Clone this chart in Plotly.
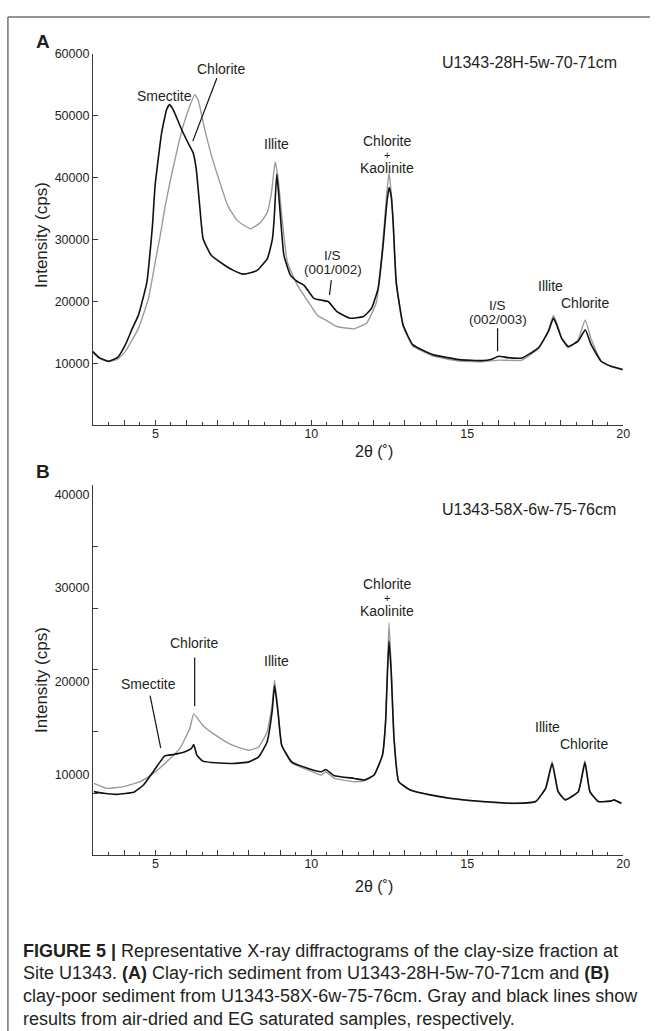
import plotly.graph_objects as go

W, H = 657, 1031
FONT = "Liberation Sans, Arial, Helvetica, sans-serif"
TXT = "#231f20"

# ---------------- Panel A: U1343-28H-5w-70-71cm ----------------
a_gray_x = [3.0, 3.2, 3.5, 3.8, 4.04, 4.46, 4.78, 5.0, 5.15, 5.3, 5.5, 5.7, 5.9, 6.1, 6.26,
            6.37, 6.58, 6.8, 7.0, 7.32, 7.6, 7.85, 8.06, 8.38, 8.59, 8.72, 8.84, 8.93, 9.07,
            9.23, 9.55, 9.97, 10.2, 10.45, 10.82, 11.35, 11.77, 12.09, 12.3, 12.41, 12.49,
            12.56, 12.62, 12.72, 12.94, 13.25, 13.89, 14.74, 15.48, 16.01, 16.75, 17.28, 17.6,
            17.76, 17.88, 18.02, 18.23, 18.55, 18.78, 18.97, 19.29, 19.61, 19.98]
a_gray_y = [11700, 10800, 10250, 10700, 11920, 15670, 20490, 26500, 30500, 35000, 40000, 44500,
            48500, 51500, 53380, 52570, 47760, 43500, 40270, 35450, 33200, 32250, 31720, 32780,
            34380, 37500, 42520, 40000, 33000, 26360, 22620, 19410, 17700, 17010, 15930, 15560,
            16470, 19940, 30000, 37000, 40800, 37500, 33000, 23000, 16000, 12800, 11200, 10350,
            10250, 10500, 10500, 12400, 15300, 17700, 16300, 14100, 12500, 13800, 17010, 13900,
            10300, 9500, 8950]

a_black_x = [3.0, 3.2, 3.5, 3.8, 4.04, 4.25, 4.46, 4.73, 4.86, 4.91, 4.99, 5.2, 5.36, 5.45,
             5.57, 5.84, 6.1, 6.21, 6.31, 6.42, 6.53, 6.79, 7.22, 7.5, 7.8, 8.05, 8.27, 8.59,
             8.75, 8.81, 8.89, 8.95, 9.02, 9.12, 9.33, 9.55, 9.76, 10.08, 10.3, 10.55, 10.82,
             11.24, 11.67, 11.93, 12.14, 12.3, 12.41, 12.49, 12.56, 12.62, 12.72, 12.94, 13.25,
             13.89, 14.74, 15.48, 15.75, 16.01, 16.3, 16.75, 17.28, 17.6, 17.76, 17.88, 18.02,
             18.23, 18.55, 18.78, 18.97, 19.29, 19.61, 19.98]
a_black_y = [11870, 10900, 10320, 11000, 13000, 15500, 17810, 23150, 29570, 32500, 38660, 47220,
             50970, 51770, 50970, 47760, 45080, 44010, 41340, 35450, 30110, 27430, 25830, 25000,
             24400, 24600, 25030, 26900, 30000, 33500, 40540, 37500, 33000, 27430, 24230, 23200,
             22620, 20490, 20200, 19940, 18340, 17270, 17540, 18880, 22090, 29040, 35450, 38390,
             37000, 33000, 23150, 16200, 13000, 11390, 10590, 10430, 10600, 11120, 10900, 10860,
             12470, 15130, 17280, 16000, 14070, 12720, 13520, 15400, 13000, 10320, 9520, 8990]

# ---------------- Panel B: U1343-58X-6w-75-76cm ----------------
b_gray_x = [3.03, 3.45, 3.98, 4.51, 4.93, 5.36, 5.78, 6.1, 6.23, 6.52, 6.94, 7.47, 8.0, 8.31,
            8.58, 8.74, 8.82, 8.93, 9.05, 9.37, 9.9, 10.32, 10.46, 10.74, 11.38, 11.69, 12.01,
            12.28, 12.38, 12.44, 12.49, 12.56, 12.65, 12.8, 13.17, 13.81, 14.44, 15.5, 16.56,
            17.19, 17.51, 17.72, 17.91, 18.14, 18.56, 18.77, 18.93, 19.2, 19.62, 19.7, 19.94]
b_gray_y = [9020, 8480, 8670, 9200, 10090, 11330, 12750, 14890, 16490, 15250, 14180, 13120,
            12580, 12930, 14540, 17390, 20120, 17030, 13120, 11200, 10450, 9910, 10270, 9550,
            9200, 9300, 9900, 12100, 15800, 21500, 26280, 21500, 14000, 9250, 8300, 7780, 7400,
            7050, 6850, 7050, 8500, 11400, 8200, 7250, 8150, 11450, 8150, 7050, 7120, 7200, 6870]

b_black_x = [3.03, 3.35, 3.77, 4.3, 4.62, 4.93, 5.15, 5.3, 5.57, 5.88, 6.15, 6.23, 6.33, 6.52,
             6.94, 7.47, 8.0, 8.31, 8.58, 8.74, 8.82, 8.93, 9.05, 9.37, 9.9, 10.32, 10.46, 10.74,
             11.38, 11.69, 12.01, 12.28, 12.38, 12.44, 12.49, 12.56, 12.65, 12.8, 13.17, 13.81,
             14.44, 15.5, 16.56, 17.19, 17.51, 17.72, 17.91, 18.14, 18.56, 18.77, 18.93, 19.2,
             19.62, 19.7, 19.94]
b_black_y = [8130, 7950, 7840, 8060, 8850, 10270, 11330, 11970, 12110, 12330, 12750, 13180,
             12050, 11410, 11230, 11150, 11330, 11870, 13470, 16670, 19520, 16670, 13120, 11330,
             10620, 10270, 10510, 9840, 9550, 9380, 9910, 12050, 15600, 20940, 24320, 20940,
             13820, 9200, 8310, 7780, 7420, 7070, 6880, 7070, 8480, 11150, 8130, 7250, 8130,
             11260, 8130, 7070, 7140, 7250, 6880]

# ---------------- axes ticks ----------------
x_tick_vals = list(range(3, 21))
x_tick_text = [str(v) if v % 5 == 0 else "" for v in x_tick_vals]
a_y_ticks = [10000, 20000, 30000, 40000, 50000, 60000]
b_y_ticks = [10000, 20000, 30000, 40000]


def px(x):
    return x / W


def py(y):
    return 1 - y / H


GRAY = "#9b9b9b"
BLACK = "#111111"
LINE_G = dict(color=GRAY, width=1.4, shape="spline", smoothing=0.4)
LINE_K = dict(color=BLACK, width=1.6, shape="spline", smoothing=0.4)

fig = go.Figure()
fig.add_trace(go.Scatter(x=a_gray_x, y=a_gray_y, mode="lines", line=LINE_G,
                         xaxis="x", yaxis="y", hoverinfo="skip"))
fig.add_trace(go.Scatter(x=a_black_x, y=a_black_y, mode="lines", line=LINE_K,
                         xaxis="x", yaxis="y", hoverinfo="skip"))
fig.add_trace(go.Scatter(x=b_gray_x, y=b_gray_y, mode="lines", line=LINE_G,
                         xaxis="x2", yaxis="y2", hoverinfo="skip"))
fig.add_trace(go.Scatter(x=b_black_x, y=b_black_y, mode="lines", line=LINE_K,
                         xaxis="x2", yaxis="y2", hoverinfo="skip"))

xdom = [px(94), px(630)]
axis_common = dict(showgrid=False, zeroline=False, showline=True, linecolor="#3a3a3a",
                   linewidth=1.2, tickcolor="#3a3a3a", tickwidth=1,
                   tickfont=dict(family=FONT, size=12.5, color=TXT))

xaxis_style = dict(axis_common, range=[3, 20], tickmode="array", tickvals=x_tick_vals,
                   ticktext=x_tick_text, ticks="inside", ticklen=5, ticklabelstandoff=-3,
                   minor=dict(ticks="inside", ticklen=3, dtick=0.5, tick0=3, tickcolor="#3a3a3a"),
                   domain=xdom)

fig.update_layout(
    width=W, height=H, margin=dict(l=0, r=0, t=0, b=0),
    paper_bgcolor="white", plot_bgcolor="white", showlegend=False,
    font=dict(family=FONT, color=TXT),
    xaxis=dict(xaxis_style, anchor="y"),
    yaxis=dict(axis_common, domain=[py(421), py(47)], range=[0, 60000], tickmode="array",
               tickvals=a_y_ticks, tickformat="d", ticks="inside", ticklen=5, anchor="x"),
    xaxis2=dict(xaxis_style, anchor="y2"),
    yaxis2=dict(axis_common, domain=[py(854), py(481)], range=[1300, 41110], tickmode="array",
                tickvals=b_y_ticks, tickformat="d", ticks="", anchor="x2"),
    yaxis3=dict(showgrid=False, zeroline=False, showline=False, overlaying="y2",
                range=[10000, 40000], dtick=5000, tick0=10000, ticks="inside", ticklen=5,
                tickcolor="#3a3a3a", showticklabels=False, anchor="x2"),
)
# empty trace that activates the tick-only overlay axis of panel B
fig.add_trace(go.Scatter(x=[None], y=[None], xaxis="x2", yaxis="y3", hoverinfo="skip"))

ann = []


def label(text, x, y, xref, yref, size=14, **kw):
    d = dict(text=text, x=x, y=y, xref=xref, yref=yref, showarrow=False, borderpad=0,
             font=dict(family=FONT, size=size, color=TXT), xanchor="center", yanchor="middle")
    d.update(kw)
    ann.append(d)


# panel letters
label("<b>A</b>", px(43), py(35), "paper", "paper", size=19)
label("<b>B</b>", px(43), py(468), "paper", "paper", size=19)

# sample names
label("U1343-28H-5w-70-71cm", 16.98, 58560, "x", "y", size=16)
label("U1343-58X-6w-75-76cm", 16.98, 38440, "x2", "y2", size=16)

# panel A peak labels
label("Smectite", 5.3, 53220, "x", "y")
label("Chlorite", 7.1, 57550, "x", "y")
label("Illite", 8.87, 45450, "x", "y")
label("Chlorite", 12.44, 45900, "x", "y")
label("+", 12.44, 43590, "x", "y", size=11)
label("Kaolinite", 12.44, 41500, "x", "y")
label("I/S", 10.69, 27350, "x", "y", size=13.5)
label("(001/002)", 10.69, 25100, "x", "y", size=13.5)
label("I/S", 15.97, 19330, "x", "y", size=13.5)
label("(002/003)", 15.97, 17000, "x", "y", size=13.5)
label("Illite", 17.67, 22460, "x", "y")
label("Chlorite", 18.77, 19690, "x", "y")

# panel B peak labels
label("Smectite", 4.77, 19690, "x2", "y2")
label("Chlorite", 6.23, 24070, "x2", "y2")
label("Illite", 8.87, 22190, "x2", "y2")
label("Chlorite", 12.44, 30450, "x2", "y2")
label("+", 12.44, 28940, "x2", "y2", size=11)
label("Kaolinite", 12.44, 27550, "x2", "y2")
label("Illite", 17.56, 15070, "x2", "y2")
label("Chlorite", 18.75, 13220, "x2", "y2")

# axis titles
label("2θ (˚)", px(378), py(448), "paper", "paper", size=16)
label("2θ (˚)", px(378), py(886), "paper", "paper", size=16)
label("Intensity (cps)", px(42), py(230), "paper", "paper", size=17, textangle=-90)
label("Intensity (cps)", px(42), py(678), "paper", "paper", size=17, textangle=-90)

# caption
cap_lines = [
    "<b>FIGURE 5 |</b> Representative X-ray diffractograms of the clay-size fraction at",
    "Site U1343. <b>(A)</b> Clay-rich sediment from U1343-28H-5w-70-71cm and <b>(B)</b>",
    "clay-poor sediment from U1343-58X-6w-75-76cm. Gray and black lines show",
    "results from air-dried and EG saturated samples, respectively.",
]
for i, t in enumerate(cap_lines):
    label(t, px(22), py(950 + 23 * i), "paper", "paper", size=18, xanchor="left")

fig.update_layout(annotations=ann)

# leader lines (in data coordinates)
lines = [
    ("x", "y", 6.97, 56040, 6.2, 45880),
    ("x", "y", 10.64, 23420, 10.58, 21020),
    ("x", "y", 15.97, 15670, 15.97, 11920),
    ("x2", "y2", 4.83, 18450, 5.17, 12830),
    ("x2", "y2", 6.26, 22540, 6.26, 17310),
]
for xr, yr, x0, y0, x1, y1 in lines:
    fig.add_shape(type="line", xref=xr, yref=yr, x0=x0, y0=y0, x1=x1, y1=y1,
                  line=dict(color=BLACK, width=1.2))

# frame of the figure box
fig.add_shape(type="line", xref="paper", yref="paper", x0=px(8), y0=py(10), x1=px(657), y1=py(10),
              line=dict(color="#707070", width=1.5))
fig.add_shape(type="line", xref="paper", yref="paper", x0=px(8), y0=py(10), x1=px(8), y1=py(1031),
              line=dict(color="#707070", width=1.5))

fig.write_html("out.html")
